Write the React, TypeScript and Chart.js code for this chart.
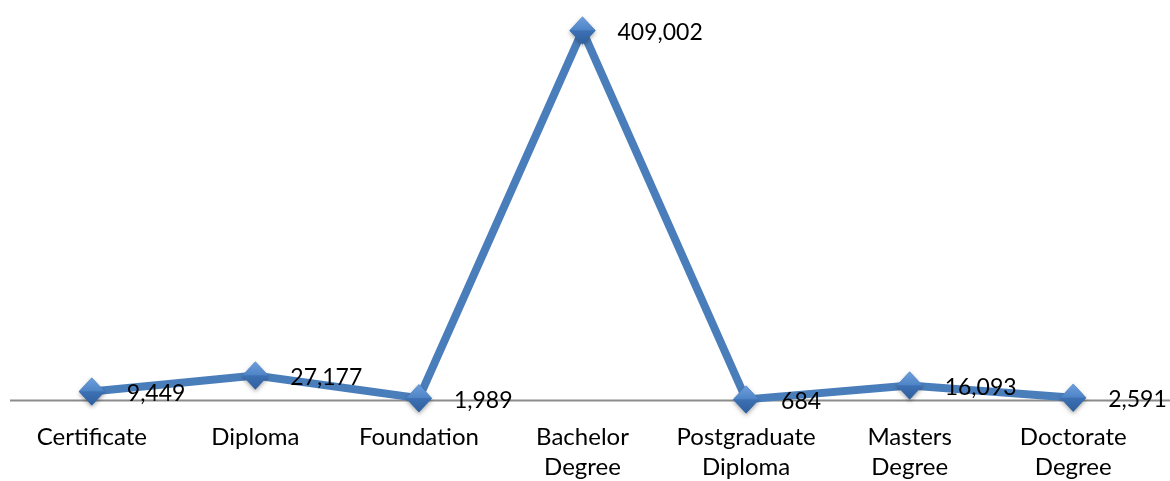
import React, { useEffect, useRef } from "react";
import { Chart, registerables } from "chart.js";

Chart.register(...registerables);

const categories: string[][] = [
  ["Certificate"],
  ["Diploma"],
  ["Foundation"],
  ["Bachelor", "Degree"],
  ["Postgraduate", "Diploma"],
  ["Masters", "Degree"],
  ["Doctorate", "Degree"],
];
const values: number[] = [9449, 27177, 1989, 409002, 684, 16093, 2591];

const FONT = "Lato, 'Open Sans', sans-serif";

const axisLinePlugin = {
  id: "axisLine",
  beforeDatasetsDraw(chart: any) {
    const { ctx } = chart;
    const y = chart.scales.y.getPixelForValue(0);
    ctx.save();
    ctx.strokeStyle = "#8c8c8c";
    ctx.lineWidth = 2;
    ctx.beginPath();
    ctx.moveTo(10, y + 0.5);
    ctx.lineTo(chart.width, y + 0.5);
    ctx.stroke();
    ctx.restore();
  },
};

const markerPlugin = {
  id: "diamondMarkers",
  afterDatasetsDraw(chart: any) {
    const { ctx } = chart;
    const meta = chart.getDatasetMeta(0);
    const rx = 13;
    const ry = 14;
    ctx.save();
    meta.data.forEach((pt: any) => {
      const x = pt.x;
      const y = pt.y;
      ctx.save();
      ctx.shadowColor = "rgba(0,0,0,0.35)";
      ctx.shadowBlur = 4;
      ctx.shadowOffsetY = 2;
      ctx.fillStyle = "#3f74b6";
      ctx.beginPath();
      ctx.moveTo(x, y - ry);
      ctx.lineTo(x + rx, y);
      ctx.lineTo(x, y + ry);
      ctx.lineTo(x - rx, y);
      ctx.closePath();
      ctx.fill();
      ctx.restore();
      const gu = ctx.createLinearGradient(x, y - ry, x, y);
      gu.addColorStop(0, "#6f9fdc");
      gu.addColorStop(1, "#4d83c6");
      ctx.fillStyle = gu;
      ctx.beginPath();
      ctx.moveTo(x, y - ry);
      ctx.lineTo(x + rx, y);
      ctx.lineTo(x - rx, y);
      ctx.closePath();
      ctx.fill();
      const gl = ctx.createLinearGradient(x, y, x, y + ry);
      gl.addColorStop(0, "#3d71b4");
      gl.addColorStop(1, "#2f5f9c");
      ctx.fillStyle = gl;
      ctx.beginPath();
      ctx.moveTo(x - rx, y);
      ctx.lineTo(x + rx, y);
      ctx.lineTo(x, y + ry);
      ctx.closePath();
      ctx.fill();
    });
    ctx.restore();
  },
};

const labelPlugin = {
  id: "dataLabels",
  afterDatasetsDraw(chart: any) {
    const { ctx } = chart;
    const meta = chart.getDatasetMeta(0);
    ctx.save();
    ctx.font = `23px ${FONT}`;
    ctx.fillStyle = "#000000";
    ctx.textAlign = "left";
    ctx.textBaseline = "middle";
    meta.data.forEach((pt: any, i: number) => {
      const v = chart.data.datasets[0].data[i] as number;
      ctx.fillText(v.toLocaleString("en-US"), pt.x + 35, pt.y + 2);
    });
    ctx.restore();
  },
};

export default function App() {
  const ref = useRef<HTMLCanvasElement | null>(null);
  useEffect(() => {
    if (!ref.current) return;
    const chart = new Chart(ref.current, {
      type: "line",
      data: {
        labels: categories,
        datasets: [
          {
            data: values,
            borderColor: "#4a7ebb",
            borderWidth: 8,
            pointRadius: 0,
            pointHoverRadius: 0,
            tension: 0,
            clip: false as any,
          },
        ],
      },
      options: {
        animation: false,
        responsive: false,
        maintainAspectRatio: false,
        layout: { padding: { top: 3, left: 10, right: 15, bottom: 0 } },
        plugins: { legend: { display: false }, tooltip: { enabled: false } },
        scales: {
          y: { display: false, min: 0, max: 439500 },
          x: {
            offset: true,
            grid: { display: false, drawTicks: false },
            border: { display: false },
            ticks: {
              color: "#000000",
              font: { family: FONT, size: 24, lineHeight: 1.22 },
              padding: 23,
              maxRotation: 0,
              autoSkip: false,
            },
            afterFit: (scale: any) => {
              scale.height = 81;
            },
          },
        },
      },
      plugins: [axisLinePlugin, markerPlugin, labelPlugin],
    });
    return () => chart.destroy();
  }, []);
  return (
    <div style={{ position: "fixed", left: 0, top: 0, width: 1170, height: 481, background: "#fff" }}>
      <canvas ref={ref} width={1170} height={481} style={{ width: 1170, height: 481 }} />
    </div>
  );
}
